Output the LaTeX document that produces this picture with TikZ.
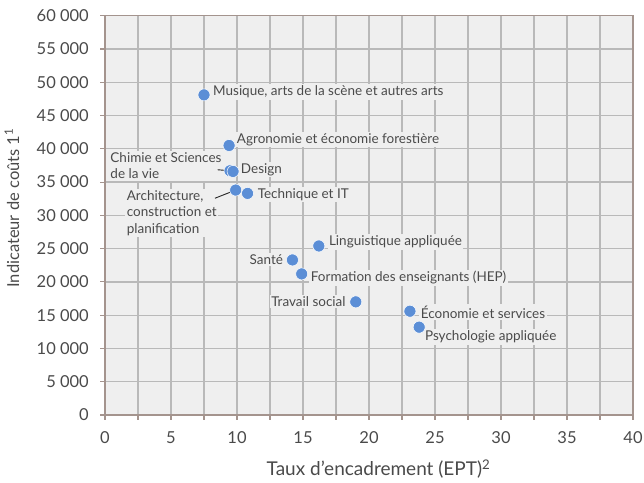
\documentclass[tikz,border=0pt]{standalone}
\usepackage{fontspec}
\setmainfont{Lato}
\usetikzlibrary{positioning}
\definecolor{plotbg}{HTML}{EFEFEF}
\definecolor{gridgray}{HTML}{B9B9B9}
\definecolor{axisbrown}{HTML}{A4948E}
\definecolor{dotblue}{HTML}{5B8ED6}
\definecolor{textgray}{HTML}{4A4A4A}

\begin{document}
\begin{tikzpicture}[x=13.2pt, y=6.655pt,
                    pointnode/.style={circle, fill=dotblue, draw=white, line width=0.5pt, inner sep=0pt, minimum size=12pt},
                    labelnode/.style={fill=plotbg, inner sep=1.5pt, text=textgray, font=\fontsize{13.5}{16.5}\selectfont},
                    ticklabel/.style={inner sep=0pt, text=textgray, font=\fontsize{16.5}{18}\selectfont},
                    leaderline/.style={black!85, line width=0.9pt}]
    \useasboundingbox (-105pt,-67pt) rectangle (539pt,415pt);
    % plot area and grid
    \fill[plotbg] (0,0) rectangle (40,60);
    \foreach \gx in {2.5,5,...,37.5}
        \draw[gridgray, line width=1.3pt] (\gx,0) -- (\gx,60);
    \foreach \gy in {5,10,...,55}
        \draw[gridgray, line width=1.3pt] (0,\gy) -- (40,\gy);
    \draw[axisbrown, line width=1.3pt] (0,0) rectangle (40,60);
    \foreach \gx in {0,2.5,...,40}
        \draw[axisbrown, line width=1.1pt] (\gx,0) -- ++(0,-5pt);
    \foreach \gy in {0,5,...,60}
        \draw[axisbrown, line width=1.1pt] (0,\gy) -- ++(-5pt,0);
    % tick labels
    \foreach \gx in {0,5,...,40}
        \path (\gx,0) ++(0,-23pt) node[ticklabel] (xt\gx) {\gx};
    \foreach \gy/\gt in {0/0, 5/5 000, 10/10 000, 15/15 000, 20/20 000, 25/25 000,
                         30/30 000, 35/35 000, 40/40 000, 45/45 000, 50/50 000, 55/55 000, 60/60 000}
        \path (0,\gy) ++(-16pt,0) node[ticklabel, anchor=east] (yt\gy) {\gt};
    \node[ticklabel, font=\fontsize{19}{21}\selectfont] (xtitle) at (273.5pt,-54pt) {Taux d\char"27 encadrement (EPT)\textsuperscript{2}};
    \node[ticklabel, rotate=90] (ytitle) at (-93pt,207pt) {Indicateur de coûts 1\textsuperscript{1}};
    % data points
    \coordinate (mus) at (7.5,48.1);
    \coordinate (agro) at (9.4,40.5);
    \coordinate (chim) at (9.47,36.7);
    \coordinate (design) at (9.7,36.6);
    \coordinate (archi) at (9.9,33.8);
    \coordinate (tech) at (10.8,33.3);
    \coordinate (ling) at (16.2,25.4);
    \coordinate (sante) at (14.2,23.3);
    \coordinate (hep) at (14.9,21.2);
    \coordinate (social) at (19.0,17.0);
    \coordinate (eco) at (23.1,15.6);
    \coordinate (psy) at (23.8,13.2);
    % labels
    \node[labelnode, right=7.5pt of mus, yshift=3pt] (muslbl) {Musique, arts de la scène et autres arts};
    \node[labelnode, right=6.2pt of agro, yshift=6pt] (agrolbl) {Agronomie et économie forestière};
    \node[labelnode, left=6.8pt of chim, yshift=5pt, align=left] (chimlbl) {Chimie et Sciences\\de la vie};
    \node[labelnode, right=6.2pt of design, yshift=2pt] (designlbl) {Design};
    \node[labelnode, left=17.2pt of archi, yshift=-23pt, align=left] (archilbl) {Architecture,\\construction et\\planification};
    \node[labelnode, right=8.5pt of tech, yshift=-1pt] (techlbl) {Technique et IT};
    \node[labelnode, right=8.5pt of ling, yshift=4pt] (linglbl) {Linguistique appliquée};
    \node[labelnode, left=7.8pt of sante] (santelbl) {Santé};
    \node[labelnode, right=7.5pt of hep, yshift=-4pt] (heplbl) {Formation des enseignants (HEP)};
    \node[labelnode, left=8.5pt of social] (sociallbl) {Travail social};
    \node[labelnode, right=9.2pt of eco, yshift=-1pt] (ecolbl) {Économie et services};
    \node[labelnode, right=4.2pt of psy, yshift=-10pt] (psylbl) {Psychologie appliquée};
    % leader lines
    \coordinate (chimend) at ([shift={(-5.5pt,-4pt)}]chimlbl.east);
    \coordinate (archiend) at ([shift={(-3.5pt,-9.5pt)}]archilbl.north east);
    \draw[leaderline] (chimend) -- (chim);
    \draw[leaderline] (archiend) -- (archi);
    % dots on top
    \foreach \p in {mus,agro,chim,design,archi,tech,ling,sante,hep,social,eco,psy}
        \node[pointnode] (\p dot) at (\p) {};
\end{tikzpicture}
\end{document}
